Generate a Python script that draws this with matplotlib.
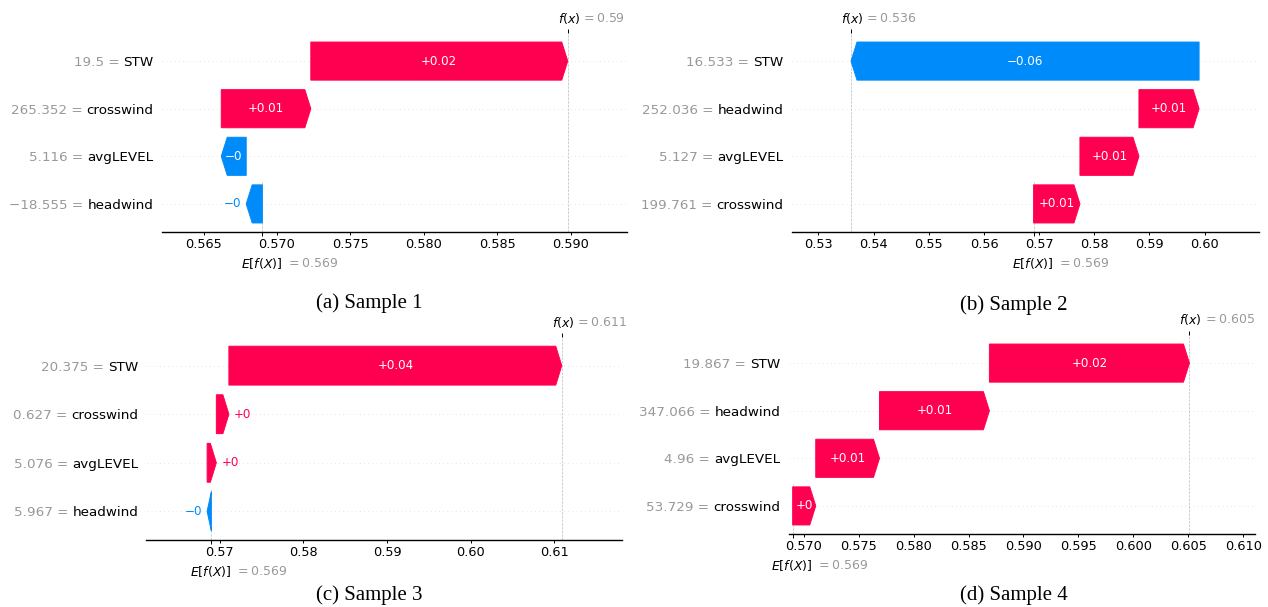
import re
import numpy as np
import matplotlib
matplotlib.use('Agg')
import matplotlib.pyplot as plt
from matplotlib.ticker import MaxNLocator

# expected model output, shared by all four samples
base_value = 0.569

# features listed from the top row down (sorted by |shap|)
names_1 = ['STW', 'crosswind', 'avgLEVEL', 'headwind']
feat_1 = [19.5, 265.352, 5.116, -18.555]
shap_1 = [0.0175, 0.0061, -0.0017, -0.0011]

names_2 = ['STW', 'headwind', 'avgLEVEL', 'crosswind']
feat_2 = [16.533, 252.036, 5.127, 199.761]
shap_2 = [-0.0631, 0.0109, 0.0107, 0.0084]

names_3 = ['STW', 'crosswind', 'avgLEVEL', 'headwind']
feat_3 = [20.375, 0.627, 5.076, 5.967]
shap_3 = [0.0398, 0.0015, 0.0011, -0.0005]

names_4 = ['STW', 'headwind', 'avgLEVEL', 'crosswind']
feat_4 = [19.867, 347.066, 4.96, 53.729]
shap_4 = [0.0182, 0.0100, 0.0058, 0.0021]

captions = ['(a) Sample 1', '(b) Sample 2', '(c) Sample 3', '(d) Sample 4']

RED = (1.0, 0.0, 0.31796)
BLUE = (0.0, 0.5450, 0.9843)
GRAY = '#999999'

YT_FS = 9.7     # feature labels
XT_FS = 9.3     # x tick labels
BAR_FS = 8.6    # numbers on the arrows
LBL_FS = 9.0    # E[f(X)] / f(x)
YPAD = 6.0      # gap between labels and axes, points
HEAD_IN = 0.06  # arrow head length, inches

W, H = 1268, 607


def fmt(v, f):
    s = re.sub(r'\.?0+$', '', f % v)
    if s[0] == '-':
        s = '\u2212' + s[1:]
    return s


def px_rect(x0, y0, x1, y1):
    return [x0 / W, 1 - y1 / H, (x1 - x0) / W, (y1 - y0) / H]


def waterfall(fig, rect, names, feats, shap, base):
    ax = fig.add_axes(rect)
    n = len(names)
    rows = list(range(n - 1, -1, -1))
    fx = base + sum(shap)

    pos_i, pos_w, pos_l = [], [], []
    neg_i, neg_w, neg_l = [], [], []
    loc = fx
    for r, s in zip(rows, shap):
        loc -= s
        if s >= 0:
            pos_i.append(r); pos_w.append(s); pos_l.append(loc)
        else:
            neg_i.append(r); neg_w.append(s); neg_l.append(loc)

    for r in rows:
        ax.axhline(r, color='#cccccc', lw=0.5, dashes=(1, 5), zorder=-1)
    ax.axvline(base, 0, 1 / n, color='#bbbbbb', ls='--', lw=0.5, zorder=-1)
    ax.axvline(fx, 0, 1, color='#bbbbbb', ls='--', lw=0.5, zorder=-1)

    # invisible bars only to size the axes (room for outside labels)
    pts = pos_l + [l + w for l, w in zip(pos_l, pos_w)] + neg_l + [l + w for l, w in zip(neg_l, neg_w)]
    dataw = max(pts) - min(pts)
    if pos_i:
        ax.barh(pos_i, np.array(pos_w) + 0.12 * dataw, left=np.array(pos_l) - 0.01 * dataw, alpha=0)
    if neg_i:
        ax.barh(neg_i, np.array(neg_w) - 0.12 * dataw, left=np.array(neg_l) + 0.01 * dataw, alpha=0)

    xmin, xmax = ax.get_xlim()
    ymin, ymax = ax.get_ylim()
    ax.set_xlim(xmin, xmax)
    ax.set_ylim(ymin, ymax)
    xscale = (xmax - xmin) / (rect[2] * fig.get_figwidth())
    hl = xscale * HEAD_IN
    gap = xscale * 3.75 / 72

    renderer = fig.canvas.get_renderer()
    for r, w, l in zip(pos_i, pos_w, pos_l):
        arr = ax.arrow(l, r, max(w - hl, 1e-6), 0, head_length=min(w, hl), color=RED,
                       width=0.8, head_width=0.8, lw=0.7)
        t = ax.text(l + 0.5 * w, r, fmt(w, '%+0.02f'), ha='center', va='center',
                    color='white', fontsize=BAR_FS)
        if t.get_window_extent(renderer).width > arr.get_window_extent(renderer).width:
            t.remove()
            ax.text(l + w + gap, r, fmt(w, '%+0.02f'), ha='left', va='center',
                    color=RED, fontsize=BAR_FS)
    for r, w, l in zip(neg_i, neg_w, neg_l):
        arr = ax.arrow(l, r, -max(-w - hl, 1e-6), 0, head_length=min(-w, hl), color=BLUE,
                       width=0.8, head_width=0.8, lw=0.7)
        t = ax.text(l + 0.5 * w, r, fmt(w, '%+0.02f'), ha='center', va='center',
                    color='white', fontsize=BAR_FS)
        if t.get_window_extent(renderer).width > arr.get_window_extent(renderer).width:
            t.remove()
            ax.text(l + w - gap, r, fmt(w, '%+0.02f'), ha='right', va='center',
                    color=BLUE, fontsize=BAR_FS)

    # feature names as black tick labels, the feature value in gray in front
    ax.set_yticks(rows)
    ax.set_yticklabels(names, fontsize=YT_FS)
    ax.tick_params(axis='y', length=0, pad=YPAD)
    space_pt = 0.318 * YT_FS
    for t, r, v in zip(ax.get_yticklabels(), rows, feats):
        w_pt = t.get_window_extent(renderer).width * 72 / fig.dpi
        ax.annotate(fmt(v, '%0.03f') + ' =', xy=(0, r), xycoords=('axes fraction', 'data'),
                    xytext=(-(YPAD + w_pt + space_pt), 0), textcoords='offset points',
                    ha='right', va='center_baseline', color=GRAY, fontsize=YT_FS)

    ax.xaxis.set_major_locator(MaxNLocator(nbins=10, steps=[1, 2, 2.5, 5, 10]))
    ax.tick_params(axis='x', labelsize=XT_FS, length=2.4, width=0.7, pad=2.0)
    for sp in ['top', 'right', 'left']:
        ax.spines[sp].set_visible(False)
    ax.spines['bottom'].set_linewidth(1.0)

    # little tick marks for E[f(X)] (bottom) and f(x) (top)
    for val, side in [(base, 'bottom'), (fx, 'top')]:
        tw = ax.twiny()
        tw.set_xlim(xmin, xmax)
        tw.set_xticks([val])
        tw.set_xticklabels([''])
        tw.xaxis.set_ticks_position(side)
        tw.tick_params(axis='x', length=2.8, width=0.7)
        for sp in tw.spines.values():
            sp.set_visible(False)

    ax.annotate('$E[f(X)]$', xy=(base, 0), xycoords=('data', 'axes fraction'),
                xytext=(-15.3, -23.0), textcoords='offset points', ha='left', va='center',
                fontsize=LBL_FS)
    ax.annotate('$ = ' + fmt(base, '%0.03f') + '$', xy=(base, 0), xycoords=('data', 'axes fraction'),
                xytext=(16.8, -23.0), textcoords='offset points', ha='left', va='center',
                fontsize=LBL_FS, color=GRAY)
    ax.annotate('$f(x)$', xy=(fx, 1), xycoords=('data', 'axes fraction'),
                xytext=(-7.2, 10.8), textcoords='offset points', ha='left', va='center',
                fontsize=LBL_FS)
    ax.annotate('$ = ' + fmt(fx, '%0.03f') + '$', xy=(fx, 1), xycoords=('data', 'axes fraction'),
                xytext=(9.5, 10.8), textcoords='offset points', ha='left', va='center',
                fontsize=LBL_FS, color=GRAY)
    return ax


fig = plt.figure(figsize=(W / 100, H / 100), dpi=100)

panels = [
    (px_rect(162, 33, 627, 232), names_1, feat_1, shap_1),
    (px_rect(791.5, 33, 1258.6, 232), names_2, feat_2, shap_2),
    (px_rect(146.5, 337, 622.4, 540), names_3, feat_3, shap_3),
    (px_rect(788.7, 335, 1255.3, 534), names_4, feat_4, shap_4),
]
for rect, nm, ft, sv in panels:
    waterfall(fig, rect, nm, ft, sv, base_value)

cap_xy = [(369, 303), (1014, 305), (369, 595), (1014, 595)]
for (cx, cy), cap in zip(cap_xy, captions):
    fig.text(cx / W, 1 - cy / H, cap, ha='center', va='center', fontsize=15,
             family='Liberation Serif')

fig.savefig('out.png', dpi=100)
